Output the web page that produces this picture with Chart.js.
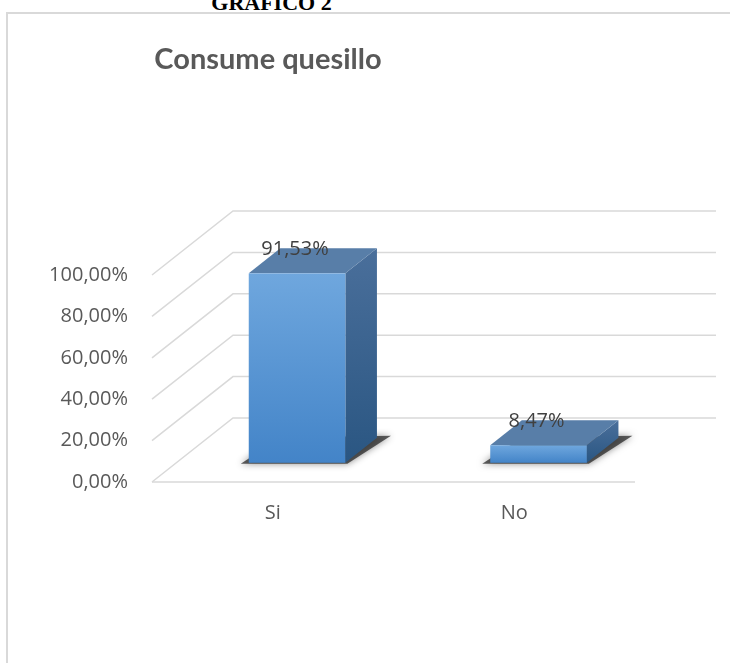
<!DOCTYPE html>
<html>
<head>
<meta charset="utf-8">
<script src="https://cdn.jsdelivr.net/npm/chart.js@4.4.0/dist/chart.umd.min.js"></script>
<style>
  html, body { margin:0; padding:0; background:#fff; overflow:hidden; }
  #grafico { position:absolute; left:0; top:-8px; width:543px; text-align:center;
             font-family:"Liberation Serif", serif; font-weight:bold; font-size:22px; line-height:22px; color:#000; }
  #marco { position:absolute; left:6px; top:12px; width:800px; height:800px;
           border-left:2px solid #d9d9d9; border-top:2px solid #d9d9d9; }
  #chartContainer { position:absolute; left:0; top:0; width:730px; height:663px; }
</style>
</head>
<body>
<div id="grafico">GRAFICO 2</div>
<div id="marco"></div>
<div id="chartContainer"><canvas id="quesilloChart"></canvas></div>
<script>
var chartTitle = "Consume quesillo";
var categorias = ["Si", "No"];
var valores = [0.9153, 0.0847];
var tickValores = [0, 0.2, 0.4, 0.6, 0.8, 1];

// profundidad del efecto 3D (pixeles)
var DEPTH_X = 81, DEPTH_Y = -64;
var BAR_FRONT = 0.3, BAR_DEPTH = 0.39;

function formatoPct(v){
	return (v*100).toFixed(2).replace('.', ',') + '%';
}

// paredes y grilla "3D"
var walls3d = {
	id: 'walls3d',
	beforeDatasetsDraw: function(chart){
		var ctx = chart.ctx, a = chart.chartArea, y = chart.scales.y;
		ctx.save();
		ctx.strokeStyle = '#d9d9d9';
		ctx.lineWidth = 1.5;
		for(var i=0; i<tickValores.length; i++){
			var py = y.getPixelForValue(tickValores[i]);
			ctx.beginPath();
			ctx.moveTo(a.left, py);
			ctx.lineTo(a.left+DEPTH_X, py+DEPTH_Y);
			ctx.lineTo(a.right+DEPTH_X, py+DEPTH_Y);
			ctx.stroke();
		}
		ctx.beginPath();
		ctx.moveTo(a.left, a.bottom);
		ctx.lineTo(a.right, a.bottom);
		ctx.stroke();
		ctx.restore();
	}
};

// barras en cubo + etiquetas de datos + titulo
var bars3d = {
	id: 'bars3d',
	afterDatasetsDraw: function(chart){
		var ctx = chart.ctx;
		var meta = chart.getDatasetMeta(0);
		var ox = DEPTH_X*BAR_FRONT, oy = DEPTH_Y*BAR_FRONT;
		var dx = DEPTH_X*BAR_DEPTH, dy = DEPTH_Y*BAR_DEPTH;
		ctx.save();
		meta.data.forEach(function(bar, i){
			var l = bar.x - bar.width/2 + ox, r = bar.x + bar.width/2 + ox;
			var t = bar.y + oy, b = bar.base + oy;

			// sombra
			ctx.save();
			ctx.shadowColor = 'rgba(0,0,0,0.6)';
			ctx.shadowBlur = 7;
			ctx.fillStyle = 'rgba(40,40,40,0.75)';
			ctx.beginPath();
			ctx.moveTo(l-8, b+1);
			ctx.lineTo(r+2, b+1);
			ctx.lineTo(r+dx+14, b+dy-2);
			ctx.lineTo(l+dx, b+dy);
			ctx.closePath();
			ctx.fill();
			ctx.restore();

			// lado derecho
			var gR = ctx.createLinearGradient(0, t+dy, 0, b);
			gR.addColorStop(0, '#4a6f9b');
			gR.addColorStop(1, '#2a5682');
			ctx.fillStyle = gR;
			ctx.beginPath();
			ctx.moveTo(r, t); ctx.lineTo(r+dx, t+dy); ctx.lineTo(r+dx, b+dy); ctx.lineTo(r, b);
			ctx.closePath(); ctx.fill();

			// tapa
			ctx.fillStyle = '#587ea8';
			ctx.beginPath();
			ctx.moveTo(l, t); ctx.lineTo(r, t); ctx.lineTo(r+dx, t+dy); ctx.lineTo(l+dx, t+dy);
			ctx.closePath(); ctx.fill();

			// frente
			var gF = ctx.createLinearGradient(0, t, 0, b);
			gF.addColorStop(0, '#6fa7de');
			gF.addColorStop(1, '#4384c8');
			ctx.fillStyle = gF;
			ctx.fillRect(l, t, r-l, b-t);

			// etiqueta
			ctx.fillStyle = '#404040';
			ctx.font = '20px "Open Sans"';
			ctx.textAlign = 'center';
			ctx.textBaseline = 'middle';
			ctx.fillText(formatoPct(valores[i]), (l+r)/2 - 2, t - 24);
		});

		ctx.fillStyle = '#595959';
		ctx.font = 'bold 29px Lato';
		ctx.textAlign = 'center';
		ctx.textBaseline = 'alphabetic';
		ctx.fillText(chartTitle, 268, 69);
		ctx.restore();
	}
};

function makeChart(){
	var ctx = document.getElementById('quesilloChart').getContext('2d');
	new Chart(ctx, {
		type: 'bar',
		data: {
			labels: categorias,
			datasets: [{
				label: chartTitle,
				data: valores,
				backgroundColor: 'rgba(0,0,0,0)',
				categoryPercentage: 1,
				barPercentage: 0.4
			}]
		},
		options: {
			responsive: true,
			maintainAspectRatio: false,
			animation: false,
			layout: { padding: { top: 275, right: 95, left: 0, bottom: 0 } },
			plugins: { legend: { display: false }, tooltip: { enabled: false }, title: { display: false } },
			scales: {
				x: {
					grid: { display: false, drawTicks: false },
					border: { display: false },
					ticks: { color: '#595959', font: { family: 'Open Sans', size: 20 }, padding: 19 },
					afterFit: function(s){ s.height = 181; }
				},
				y: {
					min: 0, max: 1,
					grid: { display: false, drawTicks: false },
					border: { display: false },
					ticks: {
						stepSize: 0.2,
						color: '#595959',
						font: { family: 'Open Sans', size: 20 },
						padding: 24,
						callback: function(v){ return formatoPct(v); }
					},
					afterFit: function(s){ s.width = 152; }
				}
			}
		},
		plugins: [walls3d, bars3d]
	});
}

makeChart();
</script>
</body>
</html>
